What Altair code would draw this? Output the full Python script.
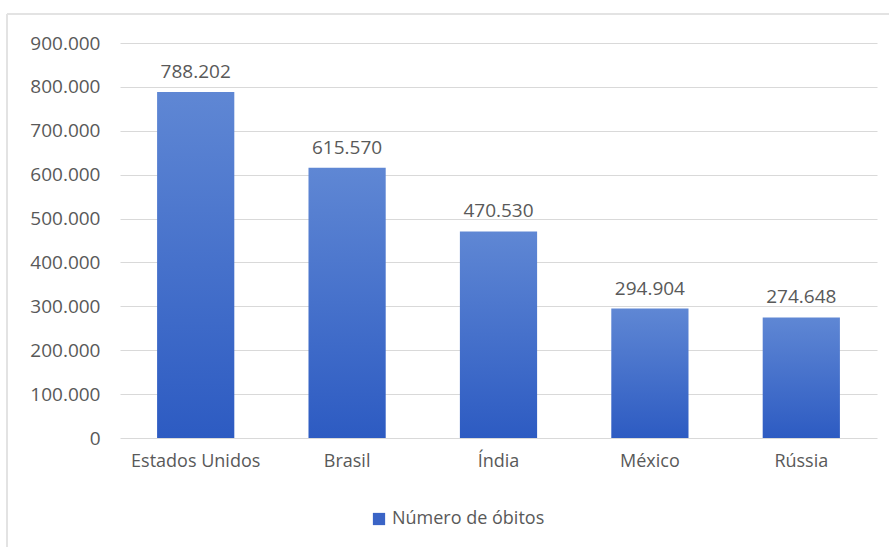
import altair as alt
import pandas as pd

paises = ["Estados Unidos", "Brasil", "Índia", "México", "Rússia"]
obitos = [788202, 615570, 470530, 294904, 274648]
serie = "Número de óbitos"
y_ticks = [0, 100000, 200000, 300000, 400000, 500000, 600000, 700000, 800000, 900000]

df = pd.DataFrame({"pais": paises, "obitos": obitos, "serie": [serie] * len(paises)})

FONT = "Open Sans"
GRAY = "#595959"

gradient = alt.Gradient(
    gradient="linear",
    stops=[alt.GradientStop(color="#5f87d4", offset=0),
           alt.GradientStop(color="#2d5bc2", offset=1)],
    x1=0, x2=0, y1=0, y2=1,
)

x_enc = alt.X(
    "pais:N", sort=paises,
    scale=alt.Scale(paddingInner=0.49, paddingOuter=0.245),
    axis=alt.Axis(title=None, labelAngle=0, labelFont=FONT, labelFontSize=18,
                  labelColor=GRAY, labelPadding=14, ticks=False, domain=False, grid=False),
)
y_enc = alt.Y(
    "obitos:Q",
    scale=alt.Scale(domain=[0, 900000], nice=False),
    axis=alt.Axis(title=None, values=y_ticks,
                  labelExpr="replace(format(datum.value, ','), regexp(',', 'g'), '.')",
                  grid=True, gridColor="#d9d9d9", gridWidth=1, domain=False, ticks=False,
                  labelPadding=20, labelFont=FONT, labelFontSize=19, labelColor=GRAY),
)

base = alt.Chart(df)

bars = base.mark_bar(fill=gradient).encode(x=x_enc, y=y_enc)

labels = base.transform_calculate(
    lbl="replace(format(datum.obitos, ','), regexp(',', 'g'), '.')"
).mark_text(dy=-10, baseline="bottom", font=FONT, fontSize=19, color=GRAY).encode(
    x=alt.X("pais:N", sort=paises), y="obitos:Q", text="lbl:N"
)

legend_layer = base.mark_square(size=0).encode(
    x=alt.X("pais:N", sort=paises), y="obitos:Q",
    color=alt.Color("serie:N", scale=alt.Scale(range=["#3a64c6"]),
                    legend=alt.Legend(title=None, orient="none", legendX=250, legendY=467,
                                      labelFont=FONT, labelFontSize=18, labelColor=GRAY,
                                      symbolType="square", symbolSize=150, symbolStrokeWidth=0,
                                      symbolOpacity=1)),
)

frame_left = alt.Chart(df).mark_rule(color="#e3e3e3", strokeWidth=1.5).encode(
    x=alt.value(-113), y=alt.value(-29), y2=alt.value(510)
)
frame_top = alt.Chart(df).mark_rule(color="#e3e3e3", strokeWidth=1.5).encode(
    x=alt.value(-113), x2=alt.value(770), y=alt.value(-29)
)

chart = alt.layer(frame_left, frame_top, bars, labels, legend_layer).properties(
    width=757, height=395,
    autosize=alt.AutoSizeParams(type="none"),
    padding={"left": 120, "top": 43, "right": 12, "bottom": 109},
    background="white",
).configure_view(strokeWidth=0)

chart.save("out.html", embed_options={"renderer": "svg", "actions": False})
